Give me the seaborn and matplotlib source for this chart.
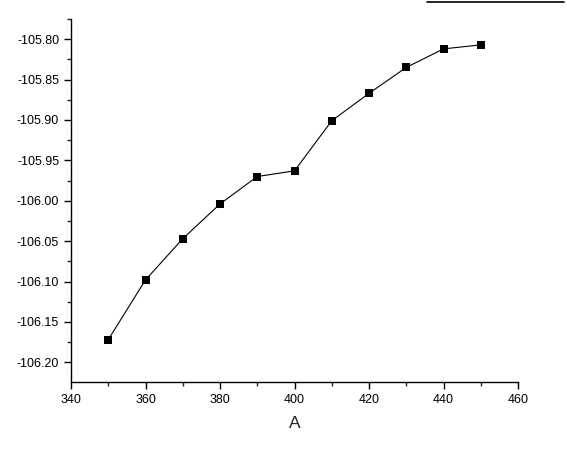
import matplotlib
matplotlib.use("Agg")
import matplotlib.pyplot as plt
import seaborn as sns
import pandas as pd
from matplotlib.ticker import MultipleLocator, FormatStrFormatter
from matplotlib.lines import Line2D

# dados
valores_a = [350, 360, 370, 380, 390, 400, 410, 420, 430, 440, 450]
valores_b = [-106.172, -106.098, -106.047, -106.004, -105.970, -105.963,
             -105.901, -105.867, -105.835, -105.812, -105.807]

df = pd.DataFrame({'A': valores_a, 'B': valores_b})

sns.set_style('ticks')
plt.rcParams['font.family'] = ['Liberation Sans', 'DejaVu Sans']

fig = plt.figure(figsize=(5.67, 4.49), dpi=100)
ax = fig.add_axes([71 / 567, 1 - 382 / 449, 447 / 567, 363 / 449])

sns.lineplot(x='A', y='B', data=df, ax=ax, color='black', linewidth=0.8,
             marker='s', markersize=6, markeredgewidth=0, markerfacecolor='black')

ax.set_xlim(340, 460)
ax.set_ylim(-106.2244, -105.775)
ax.xaxis.set_major_locator(MultipleLocator(20))
ax.xaxis.set_minor_locator(MultipleLocator(10))
ax.yaxis.set_major_locator(MultipleLocator(0.05))
ax.yaxis.set_minor_locator(MultipleLocator(0.025))
ax.yaxis.set_major_formatter(FormatStrFormatter('%.2f'))
ax.tick_params(which='major', length=5, width=1, labelsize=9, colors='black')
ax.tick_params(which='minor', length=3, width=1)

sns.despine(ax=ax)
for s in ['left', 'bottom']:
    ax.spines[s].set_linewidth(1)
    ax.spines[s].set_color('black')

ax.set_xlabel('A', fontsize=12.5, labelpad=7)
ax.set_ylabel('B', fontsize=12.5)
ax.yaxis.set_label_coords(-74 / 447, 0.47)

# borda da legenda cortada no topo
fig.add_artist(Line2D([427 / 567, 564 / 567], [1 - 1.5 / 449, 1 - 1.5 / 449],
                      transform=fig.transFigure, color='black', linewidth=1.2))

fig.savefig('out.png', dpi=100)
